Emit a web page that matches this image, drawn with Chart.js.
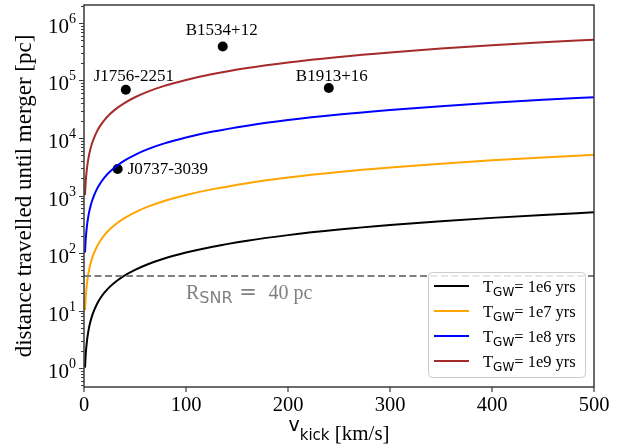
<!DOCTYPE html>
<html>
<head>
<meta charset="utf-8">
<script src="https://cdn.jsdelivr.net/npm/chart.js@4.4.0/dist/chart.umd.min.js"></script>
<style>
  html, body { margin: 0; padding: 0; background: #fff; }
</style>
</head>
<body>
<canvas id="myChart" width="632" height="448"></canvas>
<script>
// Velocidades de kick (km/s) y distancias recorridas (pc)
const vKick = [1, 1.5, 2, 3, 4, 5, 6, 8, 10, 13, 16, 20, 25, 32, 40, 50, 62, 78, 100, 125, 160, 200, 250, 300, 350, 400, 450, 500];
const dist1e6 = [1.02, 1.53, 2.05, 3.07, 4.09, 5.11, 6.14, 8.18, 10.2, 13.3, 16.4, 20.5, 25.6, 32.7, 40.9, 51.1, 63.4, 79.8, 102, 128, 164, 205, 256, 307, 358, 409, 460, 511];
const dist1e7 = [10.2, 15.3, 20.5, 30.7, 40.9, 51.1, 61.4, 81.8, 102, 133, 164, 205, 256, 327, 409, 511, 634, 798, 1020, 1280, 1640, 2050, 2560, 3070, 3580, 4090, 4600, 5110];
const dist1e8 = [102, 153, 205, 307, 409, 511, 614, 818, 1020, 1330, 1640, 2050, 2560, 3270, 4090, 5110, 6340, 7980, 10200, 12800, 16400, 20500, 25600, 30700, 35800, 40900, 46000, 51100];
const dist1e9 = [1020, 1530, 2050, 3070, 4090, 5110, 6140, 8180, 10200, 13300, 16400, 20500, 25600, 32700, 40900, 51100, 63400, 79800, 102000, 128000, 164000, 205000, 256000, 307000, 358000, 409000, 460000, 511000];

const legendTimes = ['1e6', '1e7', '1e8', '1e9'];
const seriesColors = ['#000000', '#FFA500', '#0000FF', '#A52A2A'];

// Pulsares observados
const pulsarNames = ['J1756-2251', 'B1534+12', 'J0737-3039', 'B1913+16'];
const pulsarVkick = [41, 136, 33, 240];
const pulsarDist = [69000, 390000, 2900, 74000];

// Radio del remanente de supernova
const rSNR = 40;

// Ejes
const xTickValues = [0, 100, 200, 300, 400, 500];
const xTickLabels = ['0', '100', '200', '300', '400', '500'];
const yTickExponents = [0, 1, 2, 3, 4, 5, 6];
const xMin = 0, xMax = 500, yMin = 0.47, yMax = 2.05e6;

const SERIF = '"Liberation Serif", "Times New Roman", serif';
const SANS = '"DejaVu Sans", sans-serif';

function toPoints(xs, ys) {
    return xs.map((x, i) => ({ x: x, y: ys[i] }));
}

// Dibuja texto con trozos de distinta fuente (subindices, exponentes)
function drawRuns(ctx, runs, x, y, align) {
    let total = 0;
    runs.forEach(r => { ctx.font = r[1]; total += ctx.measureText(r[0]).width; });
    let cx = align === 'center' ? x - total / 2 : (align === 'right' ? x - total : x);
    ctx.textAlign = 'left';
    ctx.textBaseline = 'alphabetic';
    runs.forEach(r => {
        ctx.font = r[1];
        ctx.fillText(r[0], cx, y + (r[2] || 0));
        cx += ctx.measureText(r[0]).width;
    });
}

const decorPlugin = {
    id: 'decor',
    afterDraw(chart) {
        const ctx = chart.ctx;
        const area = chart.chartArea;
        const xs = chart.scales.x;
        const ys = chart.scales.y;
        ctx.save();

        // Nombres de los pulsares
        ctx.fillStyle = '#000';
        const offsets = [[8, -9, 'center'], [-1, -11, 'center'], [10, 5, 'left'], [3, -7, 'center']];
        pulsarNames.forEach((name, i) => {
            const px = xs.getPixelForValue(pulsarVkick[i]);
            const py = ys.getPixelForValue(pulsarDist[i]);
            drawRuns(ctx, [[name, '17px ' + SERIF]], px + offsets[i][0], py + offsets[i][1], offsets[i][2]);
        });

        // Texto R_SNR
        ctx.fillStyle = '#808080';
        const tx = xs.getPixelForValue(100);
        const ty = ys.getPixelForValue(rSNR) + 23;
        drawRuns(ctx, [['R', '20px ' + SERIF], ['SNR', '16px ' + SANS, 4], [' =', '21px ' + SANS]], tx, ty, 'left');
        drawRuns(ctx, [['40 pc', '20px ' + SERIF]], xs.getPixelForValue(181), ty, 'left');

        // Marco
        ctx.strokeStyle = '#3a3a3a';
        ctx.lineWidth = 1.5;
        ctx.strokeRect(area.left, area.top, area.right - area.left, area.bottom - area.top);

        // Marcas y etiquetas del eje x
        ctx.fillStyle = '#000';
        ctx.lineWidth = 1.2;
        ctx.beginPath();
        xTickValues.forEach((v, i) => {
            const px = xs.getPixelForValue(v);
            ctx.moveTo(px, area.bottom);
            ctx.lineTo(px, area.bottom + 5);
        });
        ctx.stroke();
        xTickValues.forEach((v, i) => {
            drawRuns(ctx, [[xTickLabels[i], '20.5px ' + SERIF]], xs.getPixelForValue(v), 411, 'center');
        });

        // Marcas y etiquetas del eje y (logaritmico)
        ctx.beginPath();
        for (let e = -1; e <= 6; e++) {
            for (let m = 1; m <= 9; m++) {
                const v = m * Math.pow(10, e);
                if (v < yMin || v > yMax) continue;
                const py = Math.round(ys.getPixelForValue(v)) + 0.5;
                ctx.moveTo(area.left, py);
                ctx.lineTo(area.left - (m === 1 ? 5 : 3), py);
            }
        }
        ctx.stroke();
        yTickExponents.forEach(e => {
            const py = ys.getPixelForValue(Math.pow(10, e));
            drawRuns(ctx, [['10', '21px ' + SERIF, 0], [String(e), '14px ' + SERIF, -10]], area.left - 8, py + 10, 'right');
        });

        // Titulos de los ejes
        drawRuns(ctx, [['v', '19px ' + SANS, -9], ['kick', '15px ' + SANS, 0], [' [km/s]', '21px ' + SERIF, 0]],
            (area.left + area.right) / 2, 440, 'center');
        ctx.save();
        ctx.translate(31, (area.top + area.bottom) / 2);
        ctx.rotate(-Math.PI / 2);
        drawRuns(ctx, [['distance travelled until merger [pc]', '23px ' + SERIF]], 0, 0, 'center');
        ctx.restore();

        // Leyenda
        const lx = 428.5, ly = 272.5, lw = 157, lh = 105;
        ctx.fillStyle = 'rgba(255,255,255,0.8)';
        ctx.strokeStyle = '#cccccc';
        ctx.lineWidth = 1;
        ctx.beginPath();
        ctx.roundRect(lx, ly, lw, lh, 4);
        ctx.fill();
        ctx.stroke();
        legendTimes.forEach((t, i) => {
            const ry = 286 + i * 25;
            ctx.strokeStyle = seriesColors[i];
            ctx.lineWidth = 2;
            ctx.beginPath();
            ctx.moveTo(434, ry);
            ctx.lineTo(469, ry);
            ctx.stroke();
            ctx.fillStyle = '#000';
            drawRuns(ctx, [['T', '16.5px ' + SERIF], ['GW', '12px ' + SANS, 4], ['= ' + t + ' yrs', '16.5px ' + SERIF]], 483, ry + 6, 'left');
        });

        ctx.restore();
    }
};

const lineDatasets = [dist1e6, dist1e7, dist1e8, dist1e9].map((d, i) => ({
    type: 'line',
    label: 'T_GW= ' + legendTimes[i] + ' yrs',
    data: toPoints(vKick, d),
    borderColor: seriesColors[i],
    borderWidth: 2,
    pointRadius: 0,
    fill: false,
    cubicInterpolationMode: 'monotone'
}));

const ctx = document.getElementById('myChart').getContext('2d');
new Chart(ctx, {
    type: 'scatter',
    data: {
        datasets: [
            {
                type: 'line',
                label: 'R_SNR',
                data: [{ x: xMin, y: rSNR }, { x: xMax, y: rSNR }],
                borderColor: '#808080',
                borderWidth: 2,
                borderDash: [7, 3.5],
                pointRadius: 0,
                fill: false
            },
            ...lineDatasets,
            {
                type: 'scatter',
                label: 'pulsars',
                data: toPoints(pulsarVkick, pulsarDist),
                backgroundColor: '#000',
                borderWidth: 0,
                pointRadius: 5,
                pointHoverRadius: 5
            }
        ]
    },
    options: {
        responsive: false,
        animation: false,
        devicePixelRatio: 1,
        layout: { padding: { left: 84, right: 38, top: 5, bottom: 61 } },
        plugins: { legend: { display: false }, tooltip: { enabled: false } },
        scales: {
            x: { type: 'linear', min: xMin, max: xMax, display: false },
            y: { type: 'logarithmic', min: yMin, max: yMax, display: false }
        }
    },
    plugins: [decorPlugin]
});
</script>
</body>
</html>
